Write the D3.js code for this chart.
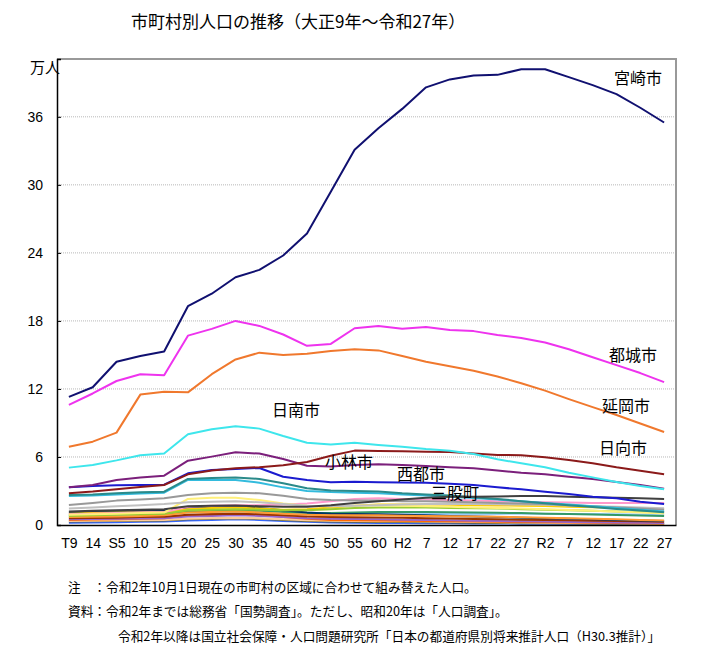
<!DOCTYPE html>
<html><head><meta charset="utf-8">
<script src="https://cdn.jsdelivr.net/npm/d3@7"></script>
<style>
html,body{margin:0;padding:0;background:#fff;}
svg{display:block;font-family:"Noto Sans CJK JP","Noto Sans",sans-serif;}
</style></head>
<body>
<svg id="c" width="721" height="647"></svg>
<script>
// ---- data ----
const xLabels = ["T9","14","S5","10","15","20","25","30","35","40","45","50","55","60","H2","7","12","17","22","27","R2","7","12","17","22","27"];
const yTicks = [0,6,12,18,24,30,36];

const miyazaki   = [11.3,12.15,14.4,14.9,15.3,19.3,20.4,21.85,22.5,23.77,25.7,29.4,33.1,35.0,36.7,38.6,39.3,39.65,39.7,40.2,40.2,39.5,38.8,38.0,36.8,35.5];
const miyakonojo = [10.6,11.6,12.7,13.3,13.2,16.7,17.3,18.0,17.56,16.8,15.8,15.97,17.35,17.56,17.3,17.47,17.2,17.1,16.76,16.5,16.1,15.5,14.8,14.1,13.4,12.6];
const nobeoka    = [6.9,7.35,8.15,11.5,11.76,11.7,13.3,14.6,15.2,15.0,15.1,15.35,15.5,15.4,14.9,14.4,14.0,13.6,13.1,12.5,11.85,11.1,10.4,9.7,8.95,8.2];
const nichinan   = [5.06,5.3,5.7,6.15,6.3,8.0,8.45,8.7,8.5,7.85,7.26,7.1,7.26,7.06,6.9,6.7,6.55,6.26,5.8,5.44,5.1,4.6,4.2,3.8,3.44,3.15];
const hyuga      = [2.8,2.95,3.15,3.35,3.53,4.47,4.8,5.0,5.1,5.27,5.56,6.1,6.56,6.53,6.5,6.47,6.44,6.3,6.18,6.15,5.97,5.74,5.44,5.09,4.79,4.47];
const kobayashi  = [3.32,3.53,3.97,4.18,4.35,5.67,6.03,6.41,6.3,5.82,5.23,5.15,5.3,5.35,5.3,5.2,5.09,5.0,4.8,4.6,4.47,4.26,4.06,3.8,3.53,3.2];
const saito      = [3.32,3.45,3.5,3.53,3.56,4.56,4.85,4.94,5.03,4.26,3.97,3.77,3.82,3.77,3.75,3.73,3.63,3.53,3.32,3.15,2.94,2.74,2.5,2.35,2.06,1.85];
const mimata     = [1.2,1.25,1.3,1.35,1.4,1.65,1.7,1.72,1.65,1.6,1.6,1.75,1.95,2.1,2.25,2.4,2.5,2.5,2.52,2.56,2.55,2.5,2.45,2.4,2.35,2.3];
const kushima    = [2.65,2.7,2.8,2.88,2.94,4.06,4.15,4.2,4.06,3.68,3.24,3.05,3.0,2.95,2.8,2.7,2.6,2.45,2.3,2.1,1.92,1.75,1.58,1.42,1.27,1.12];
const ebino      = [2.55,2.6,2.7,2.78,2.85,3.97,3.97,3.97,3.73,3.32,3.0,2.9,2.85,2.8,2.7,2.6,2.5,2.38,2.25,2.1,1.95,1.8,1.65,1.5,1.35,1.2];
const takanabe   = [1.76,1.95,2.15,2.25,2.35,2.65,2.8,2.85,2.8,2.57,2.3,2.2,2.15,2.15,2.1,2.1,2.05,2.0,1.95,1.9,1.85,1.75,1.65,1.55,1.45,1.35];
const kunitomi   = [1.45,1.55,1.65,1.75,1.85,2.0,2.05,2.1,2.0,1.85,1.7,1.65,1.7,1.75,1.8,1.85,1.85,1.85,1.83,1.8,1.78,1.72,1.66,1.6,1.54,1.47];
const takachiho  = [0.9,0.95,1.0,1.05,1.1,2.3,2.4,2.4,2.2,1.9,1.7,1.65,1.7,1.75,1.7,1.65,1.6,1.55,1.5,1.45,1.4,1.32,1.25,1.18,1.1,1.02];
const kadogawa   = [0.95,1.0,1.05,1.1,1.15,1.6,1.7,1.75,1.75,1.8,1.9,2.1,2.3,2.35,2.3,2.25,2.2,2.15,2.1,2.05,2.0,1.98,1.95,1.95,1.94,1.94];
const kawaminami = [0.8,0.85,0.9,0.95,1.0,1.3,1.35,1.4,1.35,1.3,1.3,1.4,1.5,1.55,1.55,1.55,1.5,1.48,1.45,1.4,1.35,1.3,1.25,1.2,1.15,1.1];
const shintomi   = [1.0,1.05,1.1,1.1,1.15,1.4,1.5,1.55,1.45,1.35,1.4,1.55,1.7,1.8,1.8,1.8,1.78,1.75,1.72,1.7,1.67,1.62,1.57,1.52,1.47,1.42];
const aya        = [0.7,0.72,0.75,0.8,0.85,1.1,1.15,1.2,1.1,1.0,0.9,0.85,0.85,0.85,0.82,0.8,0.78,0.75,0.72,0.68,0.65,0.6,0.55,0.5,0.45,0.4];
const takaharu   = [1.1,1.15,1.2,1.25,1.3,1.55,1.6,1.6,1.5,1.3,1.1,1.0,0.98,0.95,0.9,0.85,0.8,0.75,0.7,0.65,0.6,0.55,0.5,0.45,0.4,0.36];
const tsuno      = [0.85,0.9,0.95,1.0,1.0,1.2,1.25,1.3,1.25,1.15,1.05,1.05,1.1,1.15,1.15,1.15,1.12,1.1,1.08,1.05,1.0,0.96,0.92,0.88,0.84,0.8];
const misato     = [0.6,0.62,0.65,0.7,0.72,0.9,0.95,1.0,0.95,0.85,0.75,0.7,0.68,0.66,0.63,0.6,0.57,0.54,0.5,0.47,0.44,0.41,0.38,0.35,0.32,0.29];
const kijo       = [0.75,0.78,0.8,0.85,0.88,1.1,1.15,1.15,1.05,0.95,0.9,0.9,0.92,0.95,0.95,0.96,0.96,0.97,0.98,1.0,1.0,0.98,0.96,0.94,0.92,0.9];
const hinokage   = [0.5,0.52,0.55,0.58,0.6,0.75,0.8,0.85,0.8,0.7,0.6,0.55,0.52,0.5,0.47,0.44,0.41,0.38,0.35,0.32,0.3,0.27,0.24,0.21,0.19,0.17];
const gokase     = [0.45,0.48,0.5,0.55,0.6,0.85,0.95,1.0,0.9,0.7,0.55,0.45,0.42,0.4,0.37,0.35,0.32,0.3,0.28,0.26,0.24,0.22,0.2,0.18,0.16,0.14];
const shiiba     = [0.35,0.37,0.4,0.42,0.45,0.55,0.6,0.62,0.58,0.5,0.42,0.38,0.36,0.34,0.32,0.3,0.28,0.26,0.24,0.22,0.2,0.18,0.16,0.15,0.13,0.12];
const morotsuka  = [0.3,0.32,0.35,0.38,0.4,0.5,0.55,0.6,0.55,0.45,0.35,0.3,0.28,0.27,0.26,0.24,0.22,0.2,0.18,0.16,0.15,0.13,0.12,0.11,0.1,0.09];
const nishimera  = [0.2,0.22,0.25,0.28,0.3,0.4,0.45,0.5,0.45,0.35,0.28,0.22,0.2,0.18,0.17,0.16,0.15,0.14,0.13,0.12,0.11,0.1,0.09,0.08,0.07,0.06];

const series = [
  {name:"西米良村", values:nishimera, color:"#3366ff"},
  {name:"諸塚村", values:morotsuka, color:"#666633"},
  {name:"椎葉村", values:shiiba, color:"#ffcc99"},
  {name:"五ヶ瀬町", values:gokase, color:"#ff6600"},
  {name:"日之影町", values:hinokage, color:"#9966cc"},
  {name:"木城町", values:kijo, color:"#99ccff"},
  {name:"美郷町", values:misato, color:"#993300"},
  {name:"都農町", values:tsuno, color:"#339966"},
  {name:"高原町", values:takaharu, color:"#003366"},
  {name:"綾町", values:aya, color:"#ff9933"},
  {name:"新富町", values:shintomi, color:"#ffcc00"},
  {name:"川南町", values:kawaminami, color:"#99cc33"},
  {name:"門川町", values:kadogawa, color:"#ff99cc"},
  {name:"高千穂町", values:takachiho, color:"#fff07a"},
  {name:"国富町", values:kunitomi, color:"#c0c0c0"},
  {name:"高鍋町", values:takanabe, color:"#999999"},
  {name:"えびの市", values:ebino, color:"#33bbdd"},
  {name:"串間市", values:kushima, color:"#2a8a8a"},
  {name:"三股町", values:mimata, color:"#404040"},
  {name:"西都市", values:saito, color:"#1b1bcf"},
  {name:"小林市", values:kobayashi, color:"#7b1f7b"},
  {name:"日向市", values:hyuga, color:"#8b1a1a"},
  {name:"日南市", values:nichinan, color:"#3ee6ec"},
  {name:"延岡市", values:nobeoka, color:"#f0782d"},
  {name:"都城市", values:miyakonojo, color:"#ee33ee"},
  {name:"宮崎市", values:miyazaki, color:"#101070"}
];

const labels = [
  {text:"宮崎市", x:614, y:84},
  {text:"都城市", x:609, y:361},
  {text:"延岡市", x:602, y:412},
  {text:"日南市", x:272, y:416},
  {text:"日向市", x:599, y:454},
  {text:"小林市", x:325, y:468},
  {text:"西都市", x:397, y:480},
  {text:"三股町", x:431, y:499}
];

// ---- chart ----
const svg = d3.select("#c");
const L=57, R=676, T=59, B=525;
const x = d3.scalePoint().domain(d3.range(xLabels.length)).range([L,R]).padding(0.5);
const y = d3.scaleLinear().domain([0,41.1]).range([B,T]);

svg.append("text").attr("x",131).attr("y",28).attr("font-size",17).attr("fill","#000")
  .text("市町村別人口の推移（大正9年～令和27年）");

// grid
svg.append("g").selectAll("line").data(yTicks.filter(d=>d>0)).join("line")
  .attr("x1",L).attr("x2",R).attr("y1",d=>y(d)).attr("y2",d=>y(d))
  .attr("stroke","#b8b8b8").attr("stroke-width",1).attr("stroke-dasharray","1,1");

// frame top/right
svg.append("path").attr("d",`M${L},${T}H${R}V${B}`).attr("fill","none")
  .attr("stroke","#999").attr("stroke-width",2);

// lines
const line = d3.line().x((d,i)=>x(i)).y(d=>y(d));
svg.append("g").selectAll("path").data(series).join("path")
  .attr("d",d=>line(d.values)).attr("fill","none")
  .attr("stroke",d=>d.color).attr("stroke-width",2).attr("stroke-linejoin","round");

// axes
const ya = svg.append("g").attr("transform",`translate(${L},0)`)
  .call(d3.axisLeft(y).tickValues(yTicks).tickSize(-4).tickPadding(14));
ya.select(".domain").attr("stroke","#000").attr("stroke-width",1.5);
ya.selectAll("text").attr("font-size",14).attr("font-family","Liberation Sans, Arial, sans-serif");
ya.selectAll(".tick line").attr("stroke","#000");

const xa = svg.append("g").attr("transform",`translate(0,${B})`)
  .call(d3.axisBottom(x).tickFormat(i=>xLabels[i]).tickSize(0).tickPadding(13));
xa.select(".domain").attr("stroke","#000").attr("stroke-width",1.5);
xa.selectAll("text").attr("font-size",14).attr("font-family","Liberation Sans, Arial, sans-serif");

svg.append("text").attr("x",30).attr("y",73).attr("font-size",15).text("万人");

// labels
svg.append("g").selectAll("text").data(labels).join("text")
  .attr("x",d=>d.x).attr("y",d=>d.y).attr("font-size",16).attr("fill","#000").text(d=>d.text);

// notes
const notes = [
  {x:68, y:592, t:"注　：令和2年10月1日現在の市町村の区域に合わせて組み替えた人口。"},
  {x:68, y:616, t:"資料：令和2年までは総務省「国勢調査」。ただし、昭和20年は「人口調査」。"},
  {x:118, y:641, t:"令和2年以降は国立社会保障・人口問題研究所「日本の都道府県別将来推計人口（H30.3推計）」"}
];
svg.append("g").selectAll("text").data(notes).join("text")
  .attr("x",d=>d.x).attr("y",d=>d.y).attr("font-size",12.7).text(d=>d.t);
</script>
</body></html>
